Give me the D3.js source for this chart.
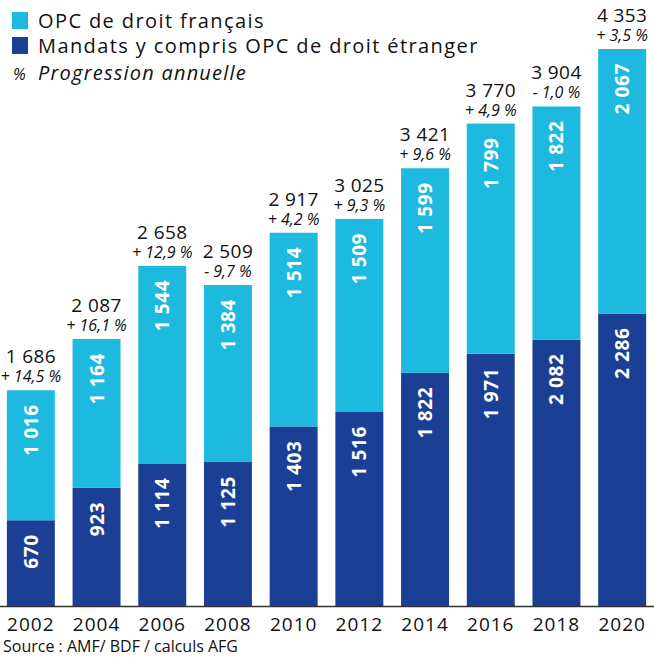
<html>
<head>
<meta charset="UTF-8">
<script src="https://d3js.org/d3.v7.min.js"></script>
<style>
  body { margin: 0; background: #fff; }
  text { font-family: "Open Sans", "Noto Sans", sans-serif; }
</style>
</head>
<body>
<svg id="chart" width="654" height="657"></svg>
<script>
// data
const years = ["2002", "2004", "2006", "2008", "2010", "2012", "2014", "2016", "2018", "2020"];
const mandats = [670, 923, 1114, 1125, 1403, 1516, 1822, 1971, 2082, 2286];
const opcFr = [1016, 1164, 1544, 1384, 1514, 1509, 1599, 1799, 1822, 2067];
const totals = ["1 686", "2 087", "2 658", "2 509", "2 917", "3 025", "3 421", "3 770", "3 904", "4 353"];
const progression = ["+ 14,5 %", "+ 16,1 %", "+ 12,9 %", "- 9,7 %", "+ 4,2 %", "+ 9,3 %", "+ 9,6 %", "+ 4,9 %", "- 1,0 %", "+ 3,5 %"];
const legendLabels = ["OPC de droit français", "Mandats y compris OPC de droit étranger", "Progression annuelle"];

const lightBlue = "#1db9df";
const darkBlue = "#1a3f94";

let svg = d3.select("svg#chart");
let width = +svg.attr("width");
let baseY = 606;

// scales
let x = d3.scaleBand()
  .domain(years)
  .range([-2, 655])
  .paddingInner(0.27)
  .paddingOuter(0.135);

let y = d3.scaleLinear()
  .domain([0, 4353])
  .range([baseY, 49]);

// numbers with a space as thousands separator
const fmt = v => {
  let s = String(v);
  return s.length > 3 ? s.slice(0, s.length - 3) + " " + s.slice(-3) : s;
};

let rows = years.map((yr, i) => ({ year: yr, m: mandats[i], o: opcFr[i], total: totals[i], pct: progression[i] }));

let g = svg.append("g");

// dark segment (mandats)
g.selectAll("rect.m").data(rows).join("rect")
  .attr("class", "m")
  .attr("x", d => x(d.year))
  .attr("width", x.bandwidth())
  .attr("y", d => y(d.m))
  .attr("height", d => baseY - y(d.m))
  .attr("fill", darkBlue);

// light segment (OPC fr)
g.selectAll("rect.o").data(rows).join("rect")
  .attr("class", "o")
  .attr("x", d => x(d.year))
  .attr("width", x.bandwidth())
  .attr("y", d => y(d.m + d.o))
  .attr("height", d => y(d.m) - y(d.m + d.o))
  .attr("fill", lightBlue);

// rotated values inside the bars
const inLabel = (cls, top, val) => {
  g.selectAll("text." + cls).data(rows).join("text")
    .attr("class", cls)
    .attr("transform", d => `translate(${x(d.year) + x.bandwidth() / 2 + 7},${top(d) + 14}) rotate(-90)`)
    .attr("text-anchor", "end")
    .attr("fill", "#fff")
    .attr("font-weight", "bold")
    .attr("font-size", 19)
    .attr("letter-spacing", 0.6)
    .text(val);
};
inLabel("lm", d => y(d.m), d => fmt(d.m));
inLabel("lo", d => y(d.m + d.o), d => fmt(d.o));

// totals and progression above bars
g.selectAll("text.tot").data(rows).join("text")
  .attr("class", "tot")
  .attr("x", d => x(d.year) + x.bandwidth() / 2)
  .attr("y", d => y(d.m + d.o) - 27)
  .attr("text-anchor", "middle")
  .attr("font-size", 19)
  .attr("letter-spacing", 0.4)
  .attr("fill", "#111")
  .text(d => d.total);

g.selectAll("text.pct").data(rows).join("text")
  .attr("class", "pct")
  .attr("x", d => x(d.year) + x.bandwidth() / 2)
  .attr("y", d => y(d.m + d.o) - 8)
  .attr("text-anchor", "middle")
  .attr("font-size", 16)
  .attr("font-style", "italic")
  .attr("fill", "#111")
  .text(d => d.pct);

// x axis
let axis = svg.append("g")
  .attr("transform", `translate(0,${baseY})`)
  .call(d3.axisBottom(x).tickSize(0).tickPadding(12));
axis.select(".domain").remove();
axis.selectAll("text")
  .attr("font-size", 19)
  .attr("letter-spacing", 1)
  .attr("fill", "#111")
  .style("font-family", '"Open Sans", sans-serif');
svg.append("line")
  .attr("x1", 0).attr("x2", width)
  .attr("y1", baseY + 0.5).attr("y2", baseY + 0.5)
  .attr("stroke", "#333").attr("stroke-width", 1.5);

// source
svg.append("text")
  .attr("x", 3).attr("y", 652)
  .attr("font-size", 16)
  .attr("fill", "#111")
  .text("Source : AMF/ BDF / calculs AFG");

// legend
let leg = svg.append("g");
[lightBlue, darkBlue].forEach((c, i) => {
  leg.append("rect")
    .attr("x", 12).attr("y", 12 + i * 25)
    .attr("width", 16).attr("height", 17)
    .attr("fill", c);
  leg.append("text")
    .attr("x", 38).attr("y", 28 + i * 25)
    .attr("font-size", 20)
    .attr("letter-spacing", 1.4)
    .attr("fill", "#111")
    .text(legendLabels[i]);
});
leg.append("text")
  .attr("x", 13).attr("y", 80)
  .attr("font-size", 16)
  .attr("font-style", "italic")
  .attr("fill", "#111")
  .text("%");
leg.append("text")
  .attr("x", 38).attr("y", 80)
  .attr("font-size", 20)
  .attr("font-style", "italic")
  .attr("letter-spacing", 1.2)
  .attr("fill", "#111")
  .text(legendLabels[2]);
</script>
</body>
</html>
